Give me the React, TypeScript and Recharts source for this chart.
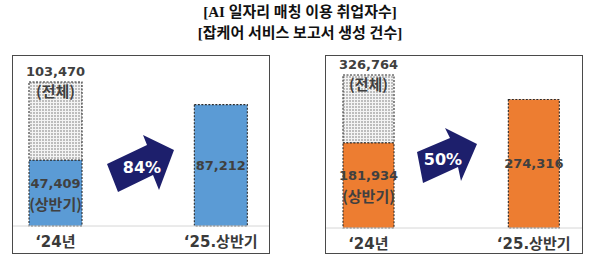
import React from "react";
import { BarChart, Bar, XAxis, YAxis, LabelList } from "recharts";

// Period categories; the blank middle slot leaves room for the growth arrow.
const periods = ["‘24년", "", "‘25.상반기"];

// AI job matching: employed users
const matchFirstHalf = [47409, null, 87212];
const matchFullYear = [103470, null, null];

// Job-care service: reports generated
const reportFirstHalf = [181934, null, 274316];
const reportFullYear = [326764, null, null];

const matchGrowth = "84%";
const reportGrowth = "50%";

const titleLines = ["[AI 일자리 매칭 이용 취업자수]", "[잡케어 서비스 보고서 생성 건수]"];
const halfTag = "(상반기)";
const fullTag = "(전체)";

type Row = { period: string; half: number | null; total: number | null; rest: number | null };

function buildRows(half: (number | null)[], full: (number | null)[]): Row[] {
  return periods.map((p, i) => {
    const h = half[i];
    const f = full[i];
    return { period: p, half: h, total: f, rest: h != null && f != null ? f - h : null };
  });
}

const NUM_FONT = '"DejaVu Sans", "Noto Sans CJK KR", sans-serif';
const KR_FONT = '"Noto Sans CJK KR", "DejaVu Sans", sans-serif';
const LABEL_COLOR = "#404040";
const fmt = (v: number) => v.toLocaleString("en-US");

const PeriodTick = (props: any) => {
  const { x, y, payload } = props;
  if (!payload || !payload.value) return null;
  return (
    <text
      x={x}
      y={y + 16}
      textAnchor="middle"
      dominantBaseline="central"
      fontFamily={NUM_FONT}
      fontSize={15}
      fontWeight={700}
      fill="#3a3a3a"
    >
      {payload.value}
    </text>
  );
};

// Labels look up their row by period name, carried as the label value.
const makeHalfLabel = (rows: Row[]) => (props: any) => {
  const { x, y, width, height, value } = props;
  const row = rows.find((r) => r.period === value);
  if (!row || row.half == null || !value) return null;
  const cx = x + width / 2;
  const cy = y + height / 2;
  if (row.total != null) {
    return (
      <g>
        <text x={cx} y={cy - 10} textAnchor="middle" dominantBaseline="central" fontFamily={NUM_FONT} fontSize={13} fontWeight={700} fill={LABEL_COLOR}>
          {fmt(row.half)}
        </text>
        <text x={cx} y={cy + 10} textAnchor="middle" dominantBaseline="central" fontFamily={KR_FONT} fontSize={15} fontWeight={700} fill={LABEL_COLOR}>
          {halfTag}
        </text>
      </g>
    );
  }
  return (
    <text x={cx} y={cy} textAnchor="middle" dominantBaseline="central" fontFamily={NUM_FONT} fontSize={13} fontWeight={700} fill={LABEL_COLOR}>
      {fmt(row.half)}
    </text>
  );
};

const makeTotalLabel = (rows: Row[]) => (props: any) => {
  const { x, y, width, value } = props;
  const row = rows.find((r) => r.period === value);
  if (!row || row.total == null || !value) return null;
  const cx = x + width / 2;
  return (
    <g>
      <text x={cx} y={y - 11} textAnchor="middle" dominantBaseline="central" fontFamily={NUM_FONT} fontSize={13} fontWeight={700} fill={LABEL_COLOR}>
        {fmt(row.total)}
      </text>
      <text x={cx} y={y + 8} textAnchor="middle" dominantBaseline="central" fontFamily={KR_FONT} fontSize={15} fontWeight={700} fill={LABEL_COLOR}>
        {fullTag}
      </text>
    </g>
  );
};

type PanelProps = {
  left: number;
  rows: Row[];
  color: string;
  yMax: number;
  axisHeight: number;
  barSize: number;
  patternId: string;
};

const Panel = ({ left, rows, color, yMax, axisHeight, barSize, patternId }: PanelProps) => (
  <div style={{ position: "absolute", left, top: 55, width: 258, height: 199 }}>
    <BarChart width={258} height={199} data={rows} margin={{ top: 0, right: 0, bottom: 0, left: 0 }} barSize={barSize}>
      <defs>
        <pattern id={patternId} width={3} height={3} patternUnits="userSpaceOnUse">
          <rect width={3} height={3} fill="#f4f4f4" />
          <circle cx={1} cy={1} r={0.75} fill="#6a6a6a" />
        </pattern>
      </defs>
      <XAxis
        dataKey="period"
        height={axisHeight}
        interval={0}
        tickLine={false}
        tickSize={0}
        tickMargin={0}
        padding={{ left: 2, right: 8 }}
        axisLine={{ stroke: "#d6d6d6", strokeWidth: 1 }}
        tick={<PeriodTick />}
      />
      <YAxis hide domain={[0, yMax]} />
      <Bar dataKey="half" stackId="s" fill={color} stroke="#2b2b2b" strokeWidth={1.1} strokeDasharray="2 1.5" isAnimationActive={false}>
        <LabelList dataKey="period" content={makeHalfLabel(rows)} />
      </Bar>
      <Bar dataKey="rest" stackId="s" fill={`url(#${patternId})`} stroke="#2b2b2b" strokeWidth={1.1} strokeDasharray="2 1.5" isAnimationActive={false}>
        <LabelList dataKey="period" content={makeTotalLabel(rows)} />
      </Bar>
    </BarChart>
    <div
      style={{
        position: "absolute",
        left: 0,
        top: 0,
        width: 258,
        height: 199,
        boxSizing: "border-box",
        border: "1px solid #4a4a4a",
        pointerEvents: "none",
      }}
    />
  </div>
);

// Block arrow with the growth rate written across its shaft.
const GrowthArrow = ({ points, label, tx, ty }: { points: string; label: string; tx: number; ty: number }) => (
  <g>
    <polygon points={points} fill="#1d1f6c" />
    <text x={tx} y={ty} textAnchor="middle" dominantBaseline="central" fontFamily={NUM_FONT} fontSize={16} fontWeight={700} fill="#ffffff">
      {label}
    </text>
  </g>
);

export default function App() {
  const matchRows = buildRows(matchFirstHalf, matchFullYear);
  const reportRows = buildRows(reportFirstHalf, reportFullYear);
  return (
    <div style={{ position: "absolute", left: 0, top: 0, width: 600, height: 271, background: "#ffffff", overflow: "hidden" }}>
      {titleLines.map((t, i) => (
        <div
          key={i}
          style={{
            position: "absolute",
            left: 0,
            top: 2 + i * 21,
            width: 600,
            textAlign: "center",
            lineHeight: "20px",
            fontSize: 15,
            fontWeight: 700,
            color: "#111",
            fontFamily: '"Liberation Serif", "Noto Sans CJK KR", serif',
          }}
        >
          {t}
        </div>
      ))}
      <Panel left={12} rows={matchRows} color="#5b9bd5" yMax={122900} axisHeight={28} barSize={53} patternId="dotsMatch" />
      <Panel left={325} rows={reportRows} color="#ed7d31" yMax={369480} axisHeight={26} barSize={51} patternId="dotsReport" />
      <svg width={600} height={271} style={{ position: "absolute", left: 0, top: 0, pointerEvents: "none" }}>
        <GrowthArrow points="107,164 147,145 143,135 174,150 159,190 153,175 118,192" label={matchGrowth} tx={142} ty={167} />
        <GrowthArrow points="417,152 450,138 445,128 477,144 461,181 458,167 423,183" label={reportGrowth} tx={443} ty={159} />
      </svg>
    </div>
  );
}
